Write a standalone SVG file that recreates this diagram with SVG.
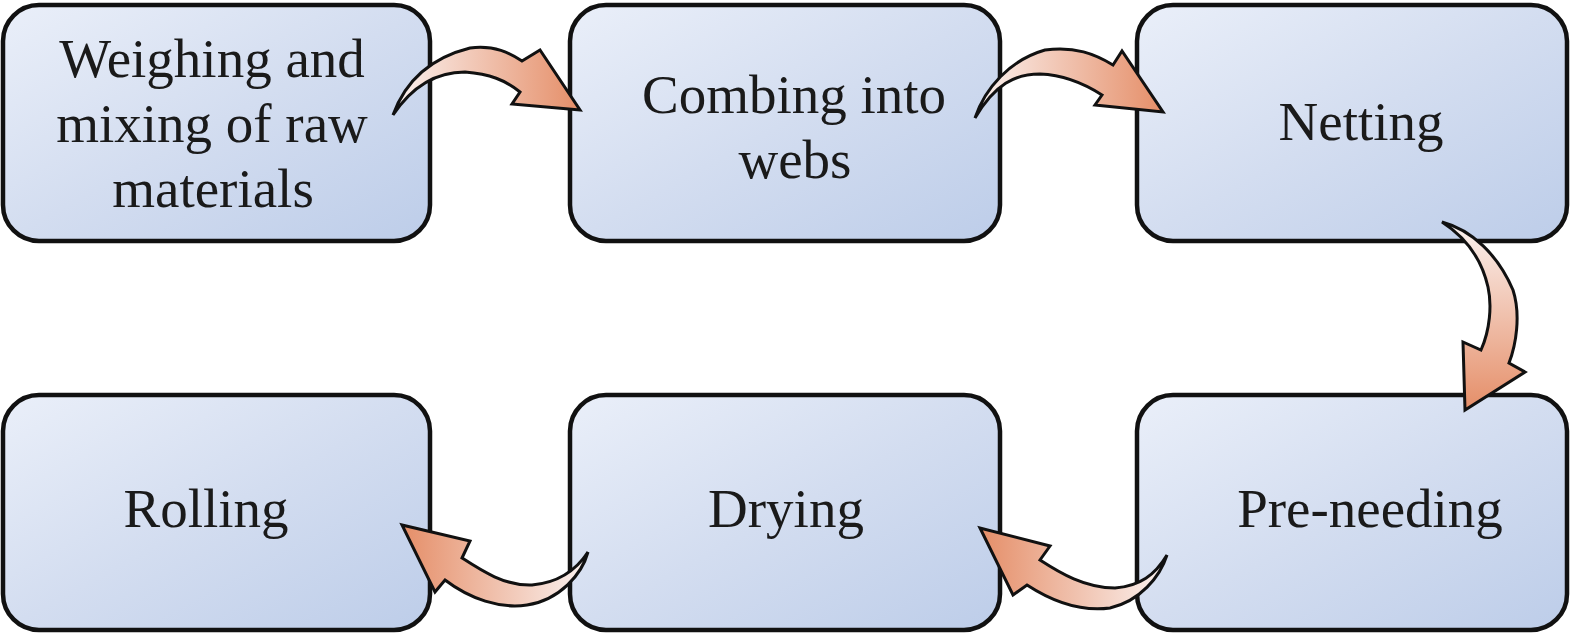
<svg xmlns="http://www.w3.org/2000/svg" width="1575" height="636" viewBox="0 0 1575 636">
<defs>
<linearGradient id="boxg" x1="0" y1="0" x2="1" y2="1">
<stop offset="0" stop-color="#eaeff9"/>
<stop offset="0.5" stop-color="#d3ddf0"/>
<stop offset="1" stop-color="#bdcde9"/>
</linearGradient>
<linearGradient id="arrR" x1="0" y1="0" x2="1" y2="0">
<stop offset="0" stop-color="#fbf3f1"/>
<stop offset="1" stop-color="#e58e68"/>
</linearGradient>
<linearGradient id="arrL" x1="1" y1="0" x2="0" y2="0">
<stop offset="0" stop-color="#fbf3f1"/>
<stop offset="1" stop-color="#e58e68"/>
</linearGradient>
<linearGradient id="arrD" x1="0" y1="0" x2="0" y2="1">
<stop offset="0" stop-color="#fbf3f1"/>
<stop offset="1" stop-color="#e58e68"/>
</linearGradient>
<style>
.box{fill:url(#boxg);stroke:#111;stroke-width:4.5}
.t{font-family:"Liberation Serif","Times New Roman",serif;font-size:55px;fill:#1a1a1a;text-anchor:middle}
.arr{stroke:#111;stroke-width:3;stroke-linejoin:miter}
</style>
</defs>
<g id="n1"><rect class="box" x="3" y="5" width="427" height="236" rx="36"/>
<text class="t" x="212" y="77">Weighing and</text><text class="t" x="212" y="142">mixing of raw</text><text class="t" x="213" y="207">materials</text></g>
<g id="n2"><rect class="box" x="570" y="5" width="430" height="236" rx="36"/>
<text class="t" x="794" y="113">Combing into</text><text class="t" x="795" y="178">webs</text></g>
<g id="n3"><rect class="box" x="1137" y="5" width="430" height="236" rx="36"/>
<text class="t" x="1361" y="140">Netting</text></g>
<g id="n4"><rect class="box" x="1137" y="395" width="430" height="235" rx="36"/>
<text class="t" x="1370" y="527">Pre-needing</text></g>
<g id="n5"><rect class="box" x="570" y="395" width="430" height="235" rx="36"/>
<text class="t" x="786" y="527">Drying</text></g>
<g id="n6"><rect class="box" x="3" y="395" width="427" height="235" rx="36"/>
<text class="t" x="206" y="527">Rolling</text></g>
<g id="connectors">
<path class="arr" fill="url(#arrR)" d="M393,115 C405,82 430,58 470,48 C495,45 510,53 522,61 L540,50 L580,110 L512,104 L520,92 C505,80 490,74 465,72 C440,72 415,82 393,115 Z"/>
<path class="arr" fill="url(#arrR)" d="M975,118 C985,88 1010,60 1045,50 C1075,46 1095,54 1113,65 L1122,51 L1163,112 L1095,105 L1102,95 C1085,84 1065,75 1040,74 C1015,74 995,84 975,118 Z"/>
<path class="arr" fill="url(#arrD)" d="M1442,222 C1472,230 1498,255 1513,290 C1521,315 1516,345 1509,363 L1525,372 L1465,410 L1463,342 L1481,350 C1490,330 1492,305 1488,287 C1483,265 1470,240 1442,222 Z"/>
<path class="arr" fill="url(#arrL)" d="M1167,555 C1160,577 1140,601 1110,608 C1080,612 1050,600 1027,585 L1013,595 L980,528 L1050,546 L1040,560 C1060,573 1085,588 1115,588 C1140,586 1155,575 1167,555 Z"/>
<path class="arr" fill="url(#arrL)" d="M588,552 C582,574 560,600 527,605 C500,609 470,599 445,580 L435,592 L402,525 L470,541 L462,558 C482,571 505,586 532,585 C555,583 575,572 588,552 Z"/>
</g>
</svg>
